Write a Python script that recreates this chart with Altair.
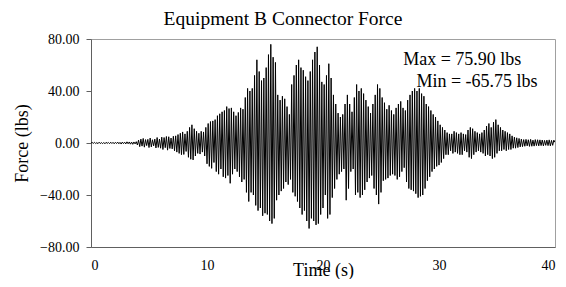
import altair as alt
import pandas as pd

# force samples every 0.1 s from t = 0 to t = 40, one row per 2 s
force_rows = [
    [0.0, 0.4, -0.3, 0.5, -0.4, 0.3, -0.5, 0.6, -0.4, 0.3, -0.5, 0.4, -0.6, 0.5, -0.3, 0.4, -0.5, 0.6, -0.4, 0.5],
    [-0.6, 0.5, -0.4, 0.7, -0.6, 0.5, -0.8, 0.7, -0.5, 0.6, -0.7, 0.9, -0.6, 0.8, -0.9, 0.7, -1.0, 0.8, -0.7, 1.0],
    [-1.5, 2.2, -2.8, 3.0, -2.4, 3.5, -3.2, 2.6, -2.0, 2.8, -3.5, 3.8, -3.0, 2.5, -2.2, 3.0, -3.8, 4.2, -3.4, 3.0],
    [-4.0, 4.5, -5.0, 4.2, -3.6, 5.0, -5.5, 4.8, -4.2, 3.8, -4.5, 5.2, -6.0, 5.5, -7.0, 6.5, -8.0, 7.5, -9.0, 8.5],
    [-8.8, 7.0, -6.5, 9.0, -11.0, 12.0, -12.5, 14.0, -13.0, 11.0, -10.0, 9.0, -8.0, 7.5, -8.5, 9.0, -7.0, 8.5, -10.0, 12.0],
    [-16.0, 15.0, -18.0, 16.5, -19.5, 17.0, -15.0, 18.0, -22.0, 21.0, -24.0, 22.5, -20.0, 24.0, -26.0, 25.0, -27.0, 28.0, -25.0, 26.5],
    [-31.0, 27.0, -24.0, 24.0, -20.0, 21.0, -22.0, 23.5, -26.0, 27.0, -30.0, 26.0, -28.0, 35.0, -38.0, 42.0, -45.0, 40.0, -38.0, 42.0],
    [-40.0, 52.0, -48.0, 64.0, -52.0, 55.0, -50.0, 48.0, -56.0, 50.0, -54.0, 58.0, -55.0, 68.0, -60.0, 75.9, -62.0, 66.0, -58.0, 62.0],
    [-44.0, 37.0, -40.0, 33.0, -37.0, 36.0, -35.0, 34.0, -30.0, 28.0, -32.0, 22.0, -28.0, 45.0, -38.0, 52.0, -41.0, 60.0, -45.0, 64.0],
    [-50.0, 58.0, -55.0, 56.0, -52.0, 51.0, -60.0, 48.0, -65.75, 55.0, -58.0, 64.0, -60.0, 70.0, -63.0, 74.0, -62.0, 60.0, -55.0, 47.0],
    [-50.0, 45.0, -40.0, 52.0, -58.0, 61.0, -55.0, 50.0, -42.0, 37.0, -35.0, 30.0, -28.0, 23.0, -24.0, 20.0, -22.0, 22.0, -20.0, 30.0],
    [-44.0, 37.0, -35.0, 30.0, -22.0, 24.0, -20.0, 35.0, -40.0, 45.0, -38.0, 40.0, -42.0, 42.0, -40.0, 38.0, -36.0, 33.0, -30.0, 28.0],
    [-27.0, 23.0, -25.0, 30.0, -35.0, 37.0, -40.0, 45.0, -47.0, 42.0, -38.0, 35.0, -29.0, 31.0, -28.0, 26.0, -27.0, 29.0, -25.0, 25.0],
    [-24.0, 22.0, -25.0, 27.0, -28.0, 30.0, -26.0, 32.0, -22.0, 27.0, -19.0, 25.0, -30.0, 33.0, -35.0, 37.0, -36.0, 40.0, -37.0, 42.0],
    [-39.0, 40.0, -42.0, 42.0, -41.0, 38.0, -40.0, 36.0, -35.0, 30.0, -29.0, 28.0, -26.0, 25.0, -22.0, 22.0, -20.0, 20.0, -18.0, 17.0],
    [-17.0, 14.0, -15.0, 12.0, -12.0, 10.0, -9.0, 8.0, -9.0, 7.0, -6.0, 7.0, -8.0, 9.0, -7.0, 8.0, -8.0, 7.0, -9.0, 8.0],
    [-9.0, 7.0, -6.0, 6.5, -7.0, 10.0, -11.0, 12.0, -12.0, 11.0, -9.0, 9.0, -7.0, 8.0, -6.0, 7.0, -7.0, 8.0, -8.0, 10.0],
    [-10.0, 13.0, -9.0, 15.0, -10.0, 12.0, -12.0, 16.0, -11.0, 18.0, -8.0, 14.0, -6.0, 12.0, -6.0, 10.0, -5.0, 9.0, -6.0, 8.0],
    [-5.0, 7.0, -5.0, 5.5, -4.0, 4.5, -4.0, 4.0, -3.5, 3.5, -3.0, 3.0, -2.8, 2.6, -2.5, 2.8, -2.2, 2.5, -2.6, 2.8],
    [-2.5, 2.2, -2.4, 2.6, -2.0, 2.5, -2.2, 2.4, -2.0, 2.3, -2.2, 2.0, -1.8, 2.2, -2.0, 2.4, -2.2, 2.0, -1.8, 2.2],
    [0.5],
]
force = [v for row in force_rows for v in row]
time_step = 0.1
time = [round(i * time_step, 2) for i in range(len(force))]

y_ticks = [-80, -40, 0, 40, 80]
x_ticks = [0, 10, 20, 30, 40]

notes_text = ["Max = 75.90 lbs", "Min = -65.75 lbs"]
notes_t = [37.1, 38.5]
notes_f = [64.0, 47.0]

FONT = "Liberation Serif"

df = pd.DataFrame({"t": time, "f": force})
notes = pd.DataFrame({"t": notes_t, "f": notes_f, "label": notes_text})

x_scale = alt.Scale(domain=[0, 40], nice=False, zero=False)
y_scale = alt.Scale(domain=[-80, 80], nice=False)

line = alt.Chart(df).mark_line(color="black", strokeWidth=1, clip=True).encode(
    x=alt.X("t:Q", scale=x_scale,
            axis=alt.Axis(values=x_ticks, title="Time (s)", format="d",
                          tickSize=0, labelPadding=11, labelBaseline="top", grid=False,
                          domainColor="#606060", labelFont=FONT, labelFontSize=14,
                          labelColor="black", titleFont=FONT, titleFontSize=18,
                          titleFontWeight="normal", titleColor="black",
                          titleY=14, titleBaseline="top")),
    y=alt.Y("f:Q", scale=y_scale,
            axis=alt.Axis(values=y_ticks, title="Force (lbs)", format=".2f",
                          tickSize=5, tickColor="#606060", labelPadding=7, grid=False,
                          domainColor="#606060", labelFont=FONT, labelFontSize=14,
                          labelColor="black", titleFont=FONT, titleFontSize=18,
                          titleFontWeight="normal", titleColor="black",
                          titleX=-69, titleY=104, titleAlign="center",
                          titleBaseline="middle")),
)

text = alt.Chart(notes).mark_text(align="right", baseline="middle", font=FONT,
                                  fontSize=18, color="black").encode(
    x="t:Q", y="f:Q", text="label:N")

chart = (line + text).properties(
    width=464, height=208,
    title=alt.TitleParams("Equipment B Connector Force", font=FONT, fontSize=19.5,
                          fontWeight="normal", color="black", anchor="middle",
                          offset=3, dx=-40),
    padding={"left": 83, "top": 31, "right": 3, "bottom": 32},
    autosize=alt.AutoSizeParams(type="none"),
).configure(font=FONT).configure_axis(labelFont=FONT, titleFont=FONT).configure_view(
    stroke="#a0a0a0", strokeWidth=1)

chart.save("out.html", embed_options={"renderer": "svg", "actions": False})
